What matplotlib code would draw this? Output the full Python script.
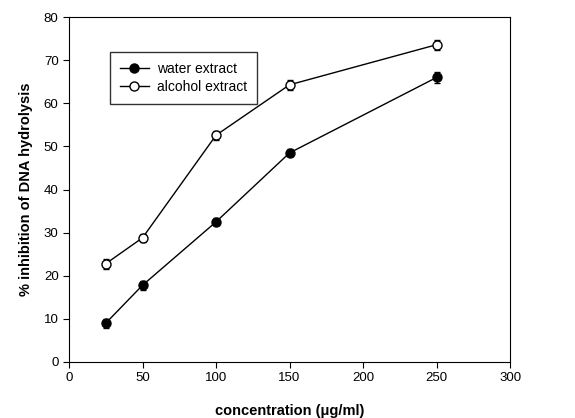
import numpy as np
import matplotlib.pyplot as plt
from matplotlib.lines import Line2D

plt.rcParams['font.family'] = ['Liberation Sans', 'DejaVu Sans']

conc = [25, 50, 100, 150, 250]
water = [9.0, 17.8, 32.5, 48.5, 66.0]
water_err = [1.0, 1.0, 0.8, 0.8, 1.2]
alcohol = [22.8, 28.8, 52.6, 64.3, 73.6]
alcohol_err = [1.2, 1.0, 1.0, 1.2, 1.2]

fig = plt.figure(figsize=(5.75, 4.18), dpi=100)
ax = fig.add_axes([0.12, 0.134, 0.767, 0.825])

ax.errorbar(conc, water, yerr=water_err, color='black', marker='o', ms=6.5,
            mfc='black', mec='black', lw=1, capsize=2, elinewidth=1)
ax.errorbar(conc, alcohol, yerr=alcohol_err, color='black', marker='o', ms=6.5,
            mfc='white', mec='black', lw=1, capsize=2, elinewidth=1)

ax.set_xlim(0, 300)
ax.set_ylim(0, 80)
ax.set_xticks(np.arange(0, 301, 50))
ax.set_yticks(np.arange(0, 81, 10))
ax.tick_params(direction='out', length=4, labelsize=9.5)
ax.set_xlabel('concentration (\u03bcg/ml)', fontsize=10.5, fontweight='bold', labelpad=14)
ax.set_ylabel('% inhibition of DNA hydrolysis', fontsize=10.5, fontweight='bold', labelpad=8)

handles = [Line2D([], [], color='black', marker='o', ms=6.5, mfc='black', lw=1),
           Line2D([], [], color='black', marker='o', ms=6.5, mfc='white', lw=1)]
leg = ax.legend(handles, ['water extract', 'alcohol extract'],
                loc='upper left', bbox_to_anchor=(0.093, 0.899), borderaxespad=0,
                fontsize=10, frameon=True, fancybox=False, edgecolor='black',
                handlelength=2.1, handletextpad=0.6, borderpad=0.7,
                labelspacing=0.3)
leg.get_frame().set_linewidth(1)

fig.savefig('out.png', dpi=100)
